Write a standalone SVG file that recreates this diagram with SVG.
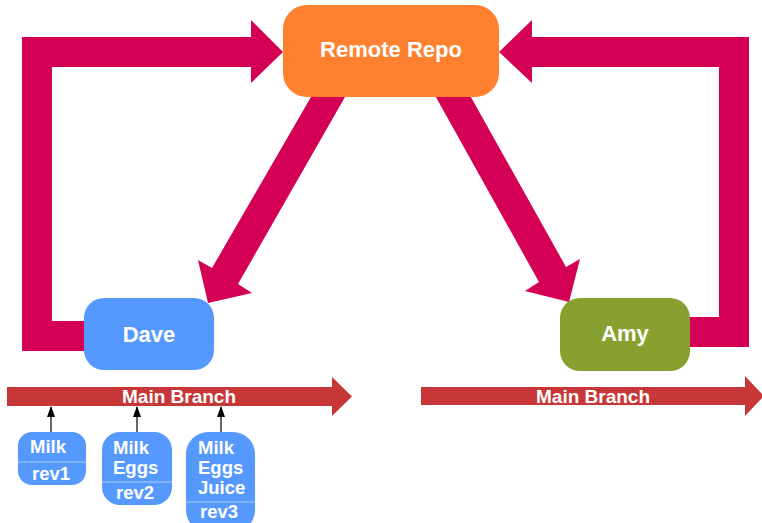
<svg xmlns="http://www.w3.org/2000/svg" width="762" height="523" viewBox="0 0 762 523">
<style>
.flow{fill:#d40055}
.branch{fill:#c83737}
.lbl{font-family:"Liberation Sans",Arial,sans-serif;font-weight:bold;fill:#fff}
.big{font-size:22px}
.mid{font-size:19px}
.sm{font-size:18.5px}
.rev{fill:#5599ff}
.div{stroke:#aaccff;stroke-width:1}
.tick{stroke:#000;stroke-width:1.2;fill:none}
</style>
<g id="connectors">
<polygon class="flow" points="22,37 251,37 251,20 283,52 251,83 251,67 52,67 52,321 100,321 100,351 22,351"/>
<polygon class="flow" points="749,37 532,37 532,20 499,52 532,83 532,67 719,67 719,317 680,317 680,347 749,347"/>
<polygon class="flow" points="315,90 349,90 238,284 252,293 208,303 198,260 212,268"/>
<polygon class="flow" points="432,90 467,90 566,267 580,259 569,302 525,291 539,282"/>
<line class="tick" x1="51" y1="432" x2="51" y2="407"/>
<line class="tick" x1="137" y1="432" x2="137" y2="407"/>
<line class="tick" x1="221" y1="432" x2="221" y2="407"/>
<path d="M47,417 L51,406 L55,417 Z M133,417 L137,406 L141,417 Z M217,417 L221,406 L225,417 Z" fill="#000"/>
</g>
<g id="remote-repo">
<rect x="283" y="5" width="216" height="92" rx="24" fill="#ff812f"/>
<text class="lbl big" x="391" y="57" text-anchor="middle">Remote Repo</text>
</g>
<g id="dave">
<rect x="84" y="298" width="130" height="72" rx="20" fill="#5599ff"/>
<text class="lbl big" x="149" y="342" text-anchor="middle">Dave</text>
</g>
<g id="amy">
<rect x="560" y="298" width="130" height="73" rx="20" fill="#88a02f"/>
<text class="lbl big" x="625" y="341" text-anchor="middle">Amy</text>
</g>
<g id="dave-branch">
<polygon class="branch" points="7,387 332,387 332,377 352,396.5 332,416 332,406 7,406"/>
<text class="lbl mid" x="179" y="403" text-anchor="middle">Main Branch</text>
</g>
<g id="amy-branch">
<polygon class="branch" points="421,387 745,387 745,376 764,396 745,416 745,405 421,405"/>
<text class="lbl mid" x="593" y="403" text-anchor="middle">Main Branch</text>
</g>
<g id="rev1">
<rect class="rev" x="18" y="432" width="68" height="53" rx="14"/>
<line class="div" x1="18" y1="462" x2="86" y2="462"/>
<text class="lbl sm" x="30" y="453">Milk</text>
<text class="lbl sm" x="51" y="480" text-anchor="middle">rev1</text>
</g>
<g id="rev2">
<rect class="rev" x="102" y="432" width="70" height="73" rx="18"/>
<line class="div" x1="102" y1="482" x2="172" y2="482"/>
<text class="lbl sm" x="113" y="454">Milk</text>
<text class="lbl sm" x="113" y="474">Eggs</text>
<text class="lbl sm" x="135" y="499" text-anchor="middle">rev2</text>
</g>
<g id="rev3">
<rect class="rev" x="186" y="432" width="69" height="100" rx="22"/>
<line class="div" x1="186" y1="502" x2="255" y2="502"/>
<text class="lbl sm" x="198" y="454">Milk</text>
<text class="lbl sm" x="198" y="474">Eggs</text>
<text class="lbl sm" x="198" y="494">Juice</text>
<text class="lbl sm" x="219" y="518" text-anchor="middle">rev3</text>
</g>
</svg>
